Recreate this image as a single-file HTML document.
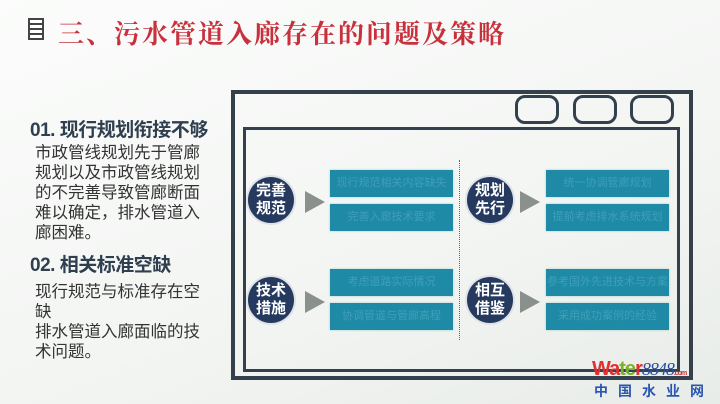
<!DOCTYPE html>
<html><head><meta charset="utf-8"><style>
html,body{margin:0;width:720px;height:404px;overflow:hidden}
body{background:linear-gradient(160deg,#fbfcfb 0%,#f3f5f3 60%,#e8ece8 100%);font-family:"Liberation Sans","Noto Sans CJK SC",sans-serif;position:relative}
.a{position:absolute}
.t{left:58px;top:14px;font-size:26px;color:#c8303c;font-family:"Liberation Serif","Noto Serif CJK SC",serif;font-weight:bold;letter-spacing:2px;white-space:nowrap}
.h{left:30px;font-size:19px;font-weight:bold;color:#2f3f4f;white-space:nowrap;letter-spacing:-0.5px}
.p{left:35px;font-size:16.5px;line-height:20px;color:#333;white-space:nowrap}
.c{width:46px;height:46px;border-radius:50%;background:#253a5e;color:#fff;font-size:15px;font-weight:bold;line-height:18px;text-align:center;display:flex;align-items:center;justify-content:center;box-shadow:0 0 0 2px #dfe3e8}
.tri{width:0;height:0;border-top:11px solid transparent;border-bottom:11px solid transparent;border-left:20px solid #8a908c}
.b{background:#1f8aa6;color:#3f9fb8;font-size:11px;line-height:13px;text-align:center;display:flex;align-items:center;justify-content:center;overflow:hidden;box-shadow:0 0 2px #9cc}
.o{top:95px;width:38px;height:23px;border:3px solid #34404c;border-radius:10px}
</style></head><body>
<div class="a" style="left:28px;top:18px;width:16px;height:22px;border:2px solid #444;background:repeating-linear-gradient(#fff 0 3px,#444 3px 5px);box-sizing:border-box"></div>
<div class="a t">三、污水管道入廊存在的问题及策略</div>
<div class="a h" style="top:115px">01. 现行规划衔接不够</div>
<div class="a p" style="top:143px">市政管线规划先于管廊<br>规划以及市政管线规划<br>的不完善导致管廊断面<br>难以确定，排水管道入<br>廊困难。</div>
<div class="a h" style="top:250px">02. 相关标准空缺</div>
<div class="a p" style="top:282px">现行规范与标准存在空<br>缺<br>排水管道入廊面临的技<br>术问题。</div>
<div class="a" style="left:231px;top:90px;width:462px;height:290px;border:4px solid #34404c;box-sizing:border-box"></div>
<div class="a" style="left:243px;top:127px;width:437px;height:245px;border:3px solid #34404c;box-sizing:border-box"></div>
<div class="a o" style="left:515px"></div><div class="a o" style="left:573px"></div><div class="a o" style="left:630px"></div>
<div class="a" style="left:459px;top:160px;height:180px;border-left:1px dotted #666"></div>
<div class="a c" style="left:248px;top:177px">完善<br>规范</div>
<div class="a c" style="left:248px;top:277px">技术<br>措施</div>
<div class="a c" style="left:467px;top:177px">规划<br>先行</div>
<div class="a c" style="left:467px;top:277px">相互<br>借鉴</div>
<div class="a tri" style="left:305px;top:191px"></div><div class="a tri" style="left:305px;top:291px"></div>
<div class="a tri" style="left:520px;top:191px"></div><div class="a tri" style="left:520px;top:291px"></div>
<div class="a b" style="left:330px;top:170px;width:123px;height:27px">现行规范相关内容缺失</div>
<div class="a b" style="left:330px;top:204px;width:123px;height:27px">完善入廊技术要求</div>
<div class="a b" style="left:330px;top:269px;width:123px;height:27px">考虑道路实际情况</div>
<div class="a b" style="left:330px;top:303px;width:123px;height:27px">协调管道与管廊高程</div>
<div class="a b" style="left:546px;top:170px;width:123px;height:27px">统一协调管廊规划</div>
<div class="a b" style="left:546px;top:204px;width:123px;height:27px">提前考虑排水系统规划</div>
<div class="a b" style="left:546px;top:269px;width:123px;height:27px">参考国外先进技术与方案</div>
<div class="a b" style="left:546px;top:303px;width:123px;height:27px">采用成功案例的经验</div>
<div class="a" style="left:592px;top:358px;font-size:20px;font-weight:bold;letter-spacing:-1px;white-space:nowrap"><span style="color:#e03030">Wa</span><span style="color:#7ab030">te</span><span style="color:#e03030">r</span><span style="color:#2a4fa0;font-style:italic;font-weight:normal;font-family:'Liberation Serif',serif;font-size:18px">8848</span><span style="font-size:7px;color:#c33">.com</span></div>
<div class="a" style="left:594px;top:381px;font-size:14px;font-weight:bold;color:#2a55b0;letter-spacing:10px;white-space:nowrap">中国水业网</div>
</body></html>
